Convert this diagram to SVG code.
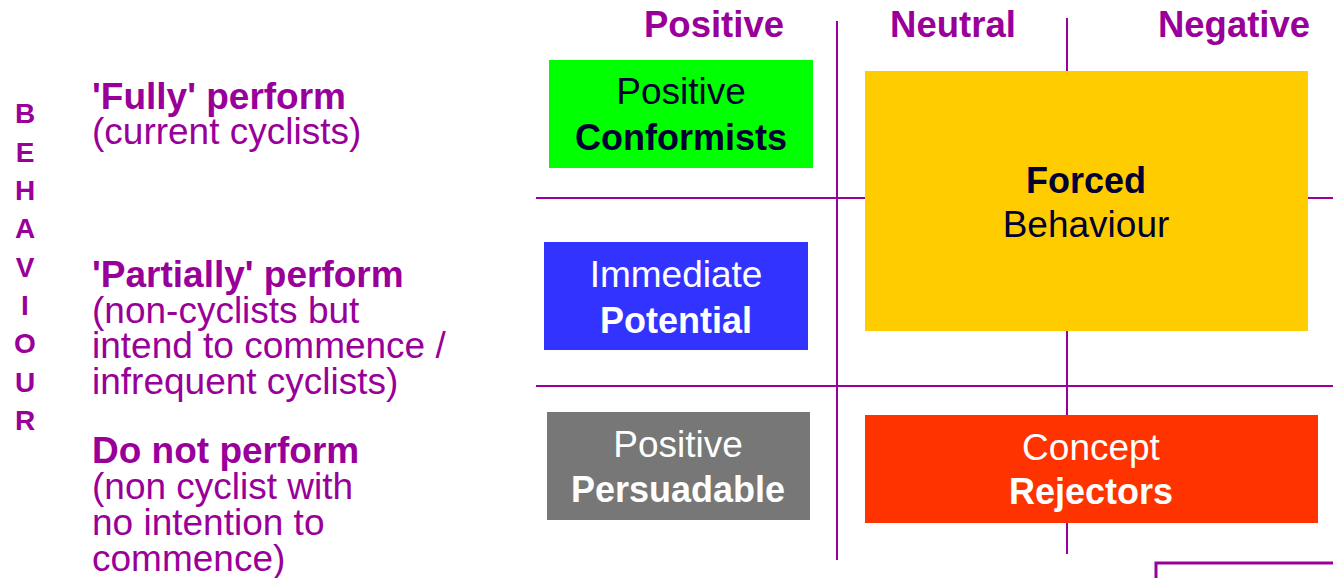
<svg xmlns="http://www.w3.org/2000/svg" width="1333" height="578" viewBox="0 0 1333 578">
<style>
.grid{stroke:#990099;stroke-width:2;fill:none}
.hdr{font-family:"Liberation Sans",Arial,sans-serif;font-weight:bold;font-size:36.5px;fill:#990099;text-anchor:middle}
.axis{font-family:"Liberation Sans",Arial,sans-serif;font-weight:bold;font-size:28px;fill:#990099;text-anchor:middle}
.lb{font-family:"Liberation Sans",Arial,sans-serif;font-weight:bold;font-size:37px;fill:#990099}
.lr{font-family:"Liberation Sans",Arial,sans-serif;font-size:37px;fill:#990099}
.bt{font-family:"Liberation Sans",Arial,sans-serif;font-size:37px;text-anchor:middle}
.bb{font-weight:bold;font-size:36px}
.dark{fill:#000033}
.light{fill:#ffffff}
</style>
<rect width="1333" height="578" fill="#ffffff"/>
<g id="connectors">
<line class="grid" x1="837" y1="21" x2="837" y2="560"/>
<line class="grid" x1="1067" y1="18" x2="1067" y2="554"/>
<line class="grid" x1="536" y1="198" x2="1333" y2="198"/>
<line class="grid" x1="536" y1="386" x2="1333" y2="386"/>
</g>
<g id="headers">
<text class="hdr" x="714" y="37">Positive</text>
<text class="hdr" x="953" y="37">Neutral</text>
<text class="hdr" x="1234" y="37">Negative</text>
</g>
<g id="axis-behaviour">
<text class="axis" x="25" y="123">B</text>
<text class="axis" x="25" y="161.5">E</text>
<text class="axis" x="25" y="200">H</text>
<text class="axis" x="25" y="238">A</text>
<text class="axis" x="25" y="276.5">V</text>
<text class="axis" x="25" y="315">I</text>
<text class="axis" x="25" y="353">O</text>
<text class="axis" x="25" y="391.5">U</text>
<text class="axis" x="25" y="430">R</text>
</g>
<g id="row-fully">
<text class="lb" x="92" y="109">'Fully' perform</text>
<text class="lr" x="92" y="144">(current cyclists)</text>
</g>
<g id="row-partially">
<text class="lb" x="92" y="287">'Partially' perform</text>
<text class="lr" x="92" y="322.5">(non-cyclists but</text>
<text class="lr" x="92" y="358">intend to commence /</text>
<text class="lr" x="92" y="393.5">infrequent cyclists)</text>
</g>
<g id="row-donot">
<text class="lb" x="92" y="463">Do not perform</text>
<text class="lr" x="92" y="499">(non cyclist with</text>
<text class="lr" x="92" y="535">no intention to</text>
<text class="lr" x="92" y="571">commence)</text>
</g>
<g id="positive-conformists">
<rect x="549" y="60" width="264" height="108" fill="#00ff00"/>
<text class="bt dark" x="681" y="104">Positive</text>
<text class="bt bb dark" x="681" y="150">Conformists</text>
</g>
<g id="forced-behaviour">
<rect x="865" y="71" width="443" height="260" fill="#ffcc00"/>
<text class="bt bb dark" x="1086" y="193">Forced</text>
<text class="bt dark" x="1086" y="237">Behaviour</text>
</g>
<g id="immediate-potential">
<rect x="544" y="242" width="264" height="108" fill="#3333ff"/>
<text class="bt light" x="676" y="287">Immediate</text>
<text class="bt bb light" x="676" y="333">Potential</text>
</g>
<g id="positive-persuadable">
<rect x="547" y="412" width="263" height="108" fill="#777777"/>
<text class="bt light" x="678" y="457">Positive</text>
<text class="bt bb light" x="678" y="502">Persuadable</text>
</g>
<g id="concept-rejectors">
<rect x="865" y="415" width="453" height="108" fill="#ff3300"/>
<text class="bt light" x="1091" y="460">Concept</text>
<text class="bt bb light" x="1091" y="504">Rejectors</text>
</g>
<g id="partial-box">
<rect x="1156" y="563" width="200" height="40" fill="#ffffff" stroke="#990099" stroke-width="3"/>
</g>
</svg>
